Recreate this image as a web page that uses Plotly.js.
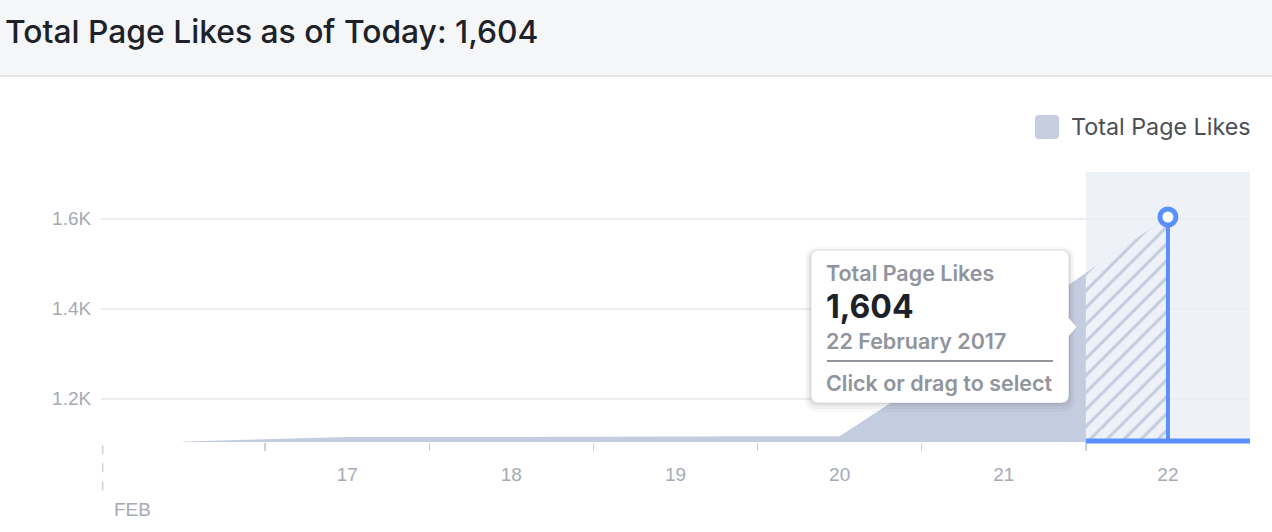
<!DOCTYPE html>
<html>
<head>
<meta charset="utf-8">
<script src="https://cdn.plot.ly/plotly-3.0.1.min.js"></script>
<style>
  html, body { margin: 0; padding: 0; background: #ffffff; }
  #chart { width: 1272px; height: 532px; }
</style>
</head>
<body>
<div id="chart"></div>
<script>
// ---- data ----
const days = [16, 17, 18, 19, 20, 21, 22];
const likes = [1105, 1115, 1115, 1116, 1117, 1355, 1604];
const xTickVals = [17, 18, 19, 20, 21, 22];
const xTickText = ['17', '18', '19', '20', '21', '22'];
const yTickVals = [1200, 1400, 1600];
const yTickText = ['1.2K', '1.4K', '1.6K'];
const yRange = [1104, 1704];
const monthLabel = 'FEB';
const seriesName = 'Total Page Likes';
const titleText = 'Total Page Likes as of Today: 1,604';
const tipValue = '1,604';
const tipDate = '22 February 2017';
const tipHint = 'Click or drag to select';

// ---- derived ----
const n = days.length - 1;
const xRange = [days[0] - 0.5, days[n] + 0.5];
const boundaries = days.slice(0, -1).map(d => d + 0.5);
const selStart = days[n] - 0.5, selEnd = days[n] + 0.5;
const x2Domain = [(selStart - xRange[0]) / (xRange[1] - xRange[0]), 1];

const BLUE = '#5890ff';
const AREA = '#c4cde0';
const SHADE = '#eef1f7';
const TICKGREY = '#a5aab5';
const FONT = 'Liberation Sans, Arial, sans-serif';
const UIFONT = 'Inter, Roboto, sans-serif';

// rounded rect in screen offsets (dx right, dy down) -> pixel path (y up)
function P(x, y) { return x + ',' + (-y); }
function roundRect(l, t, r, b, rad, arrow) {
  let s = 'M' + P(l + rad, t) + ' L' + P(r - rad, t) + ' Q' + P(r, t) + ' ' + P(r, t + rad);
  if (arrow) {
    s += ' L' + P(r, arrow.y - arrow.h) + ' L' + P(r + arrow.w, arrow.y) + ' L' + P(r, arrow.y + arrow.h);
  }
  s += ' L' + P(r, b - rad) + ' Q' + P(r, b) + ' ' + P(r - rad, b) +
       ' L' + P(l + rad, b) + ' Q' + P(l, b) + ' ' + P(l, b - rad) +
       ' L' + P(l, t + rad) + ' Q' + P(l, t) + ' ' + P(l + rad, t) + ' Z';
  return s;
}

const box = {l: -357, t: 33, r: -99, b: 186};
const arrow = {y: 110, h: 9, w: 8};

const traces = [
  {
    x: days, y: likes, type: 'scatter', mode: 'lines', name: seriesName,
    line: {width: 0, color: AREA}, fill: 'tozeroy', fillcolor: AREA,
    hoverinfo: 'skip', showlegend: false, xaxis: 'x', yaxis: 'y'
  },
  {
    x: days, y: likes, type: 'scatter', mode: 'lines',
    line: {width: 0, color: AREA}, fill: 'tozeroy',
    fillpattern: {shape: '/', fgcolor: '#c3ccdf', bgcolor: SHADE, size: 12, solidity: 0.25},
    hoverinfo: 'skip', showlegend: false, xaxis: 'x2', yaxis: 'y'
  },
  {
    x: [days[n], days[n]], y: [yRange[0], likes[n]], type: 'scatter', mode: 'lines',
    line: {width: 4, color: BLUE}, hoverinfo: 'skip', showlegend: false,
    xaxis: 'x2', yaxis: 'y', cliponaxis: false
  },
  {
    x: [days[n]], y: [likes[n]], type: 'scatter', mode: 'markers',
    marker: {size: 16, color: '#ffffff', line: {color: BLUE, width: 5}},
    hoverinfo: 'skip', showlegend: false, xaxis: 'x2', yaxis: 'y', cliponaxis: false
  }
];

const tipShape = (path, fill, line) => ({
  type: 'path', xref: 'x', yref: 'y', xsizemode: 'pixel', ysizemode: 'pixel',
  xanchor: days[n], yanchor: likes[n], path: path, fillcolor: fill,
  line: line || {width: 0}, layer: 'above'
});

const shapes = [
  // header band
  {type: 'rect', xref: 'paper', yref: 'paper', x0: -0.1, x1: 1.05, y0: 1.3556, y1: 1.7,
   fillcolor: '#f5f6f7', line: {width: 0}, layer: 'below'},
  {type: 'line', xref: 'paper', yref: 'paper', x0: -0.1, x1: 1.05, y0: 1.3556, y1: 1.3556,
   line: {color: '#dddfe2', width: 1.5}, layer: 'below'},
  // selection shading
  {type: 'rect', xref: 'x', yref: 'paper', x0: selStart, x1: selEnd, y0: 0, y1: 1,
   fillcolor: SHADE, line: {width: 0}, layer: 'below'},
  // month marker
  {type: 'line', xref: 'x', yref: 'paper', x0: xRange[0] + 0.01, x1: xRange[0] + 0.01, y0: -0.012, y1: -0.207,
   line: {color: '#ccd0d5', width: 1.5, dash: 'dash'}, layer: 'above'},
  // blue baseline for selection
  {type: 'line', xref: 'x', yref: 'paper', x0: selStart, x1: selEnd, y0: 0.004, y1: 0.004,
   line: {color: BLUE, width: 5}, layer: 'above'},
  // legend swatch
  {type: 'path', xref: 'paper', yref: 'paper', xsizemode: 'pixel', ysizemode: 'pixel',
   xanchor: (1035 - 101) / 1149, yanchor: (442 - 115) / 270,
   path: roundRect(0, 0, 24, 24, 4), fillcolor: '#c6cee0', line: {width: 0}, layer: 'above'},
  // tooltip shadow
  tipShape(roundRect(box.l - 6, box.t - 3, box.r + 6, box.b + 9, 12), 'rgba(0,0,0,0.025)'),
  tipShape(roundRect(box.l - 4, box.t - 1, box.r + 4, box.b + 6, 10), 'rgba(0,0,0,0.035)'),
  tipShape(roundRect(box.l - 2, box.t + 1, box.r + 2, box.b + 3, 9), 'rgba(0,0,0,0.05)'),
  // tooltip body
  tipShape(roundRect(box.l, box.t, box.r, box.b, 8, arrow), '#ffffff', {color: 'rgba(0,0,0,0.10)', width: 1}),
  // tooltip separator
  {type: 'line', xref: 'x', yref: 'y', xsizemode: 'pixel', ysizemode: 'pixel',
   xanchor: days[n], yanchor: likes[n], x0: -341, x1: -115, y0: -144, y1: -144,
   line: {color: '#90949c', width: 2}, layer: 'above'}
];

const tipAnn = (text, dy, size, color, weight) => ({
  xref: 'x', yref: 'y', x: days[n], y: likes[n], xanchor: 'left', yanchor: 'middle',
  xshift: -344, yshift: -dy, showarrow: false, text: text,
  font: {family: UIFONT, size: size, color: color, weight: weight}
});

const annotations = [
  {xref: 'paper', yref: 'paper', x: (1069 - 101) / 1149, y: (442 - 126) / 270,
   xanchor: 'left', yanchor: 'middle', showarrow: false, text: seriesName,
   font: {family: UIFONT, size: 23.3, color: '#4b4f56'}},
  {xref: 'x', yref: 'paper', x: xRange[0], y: (442 - 509) / 270, xanchor: 'left', yanchor: 'middle',
   xshift: 11, showarrow: false, text: monthLabel, font: {family: FONT, size: 19, color: TICKGREY}},
  tipAnn(seriesName, 56, 21.5, '#90949c', 600),
  tipAnn(tipValue, 89, 32, '#1d2129', 700),
  tipAnn(tipDate, 124, 21.5, '#90949c', 600),
  tipAnn(tipHint, 166, 21.5, '#90949c', 600)
];

const layout = {
  width: 1272, height: 532,
  margin: {l: 101, r: 22, t: 172, b: 90},
  paper_bgcolor: '#ffffff', plot_bgcolor: 'rgba(0,0,0,0)',
  showlegend: false,
  title: {text: titleText, xref: 'container', yref: 'container', x: 5 / 1272, xanchor: 'left',
          y: 1 - 32 / 532, yanchor: 'middle',
          font: {family: UIFONT, size: 31.8, color: '#1d2129', weight: 500}},
  xaxis: {
    range: xRange, tickvals: xTickVals, ticktext: xTickText,
    showgrid: false, zeroline: false, showline: false,
    ticks: 'outside', ticklen: 15, tickcolor: 'rgba(0,0,0,0)',
    tickfont: {family: FONT, size: 19, color: TICKGREY},
    minor: {tickvals: boundaries, ticks: 'outside', ticklen: 8, tickwidth: 1.5, tickcolor: '#ccd0d5', showgrid: false},
    fixedrange: true
  },
  xaxis2: {
    domain: x2Domain, range: [selStart, selEnd], anchor: 'y', visible: false,
    showgrid: false, zeroline: false, fixedrange: true
  },
  yaxis: {
    range: yRange, tickvals: yTickVals, ticktext: yTickText,
    showgrid: true, gridcolor: '#ebedf0', gridwidth: 1.5, zeroline: false, showline: false,
    ticks: 'outside', ticklen: 5, tickcolor: 'rgba(0,0,0,0)',
    tickfont: {family: FONT, size: 19, color: TICKGREY}, fixedrange: true
  },
  shapes: shapes,
  annotations: annotations
};

Plotly.newPlot('chart', traces, layout, {displayModeBar: false, staticPlot: true});
</script>
</body>
</html>
